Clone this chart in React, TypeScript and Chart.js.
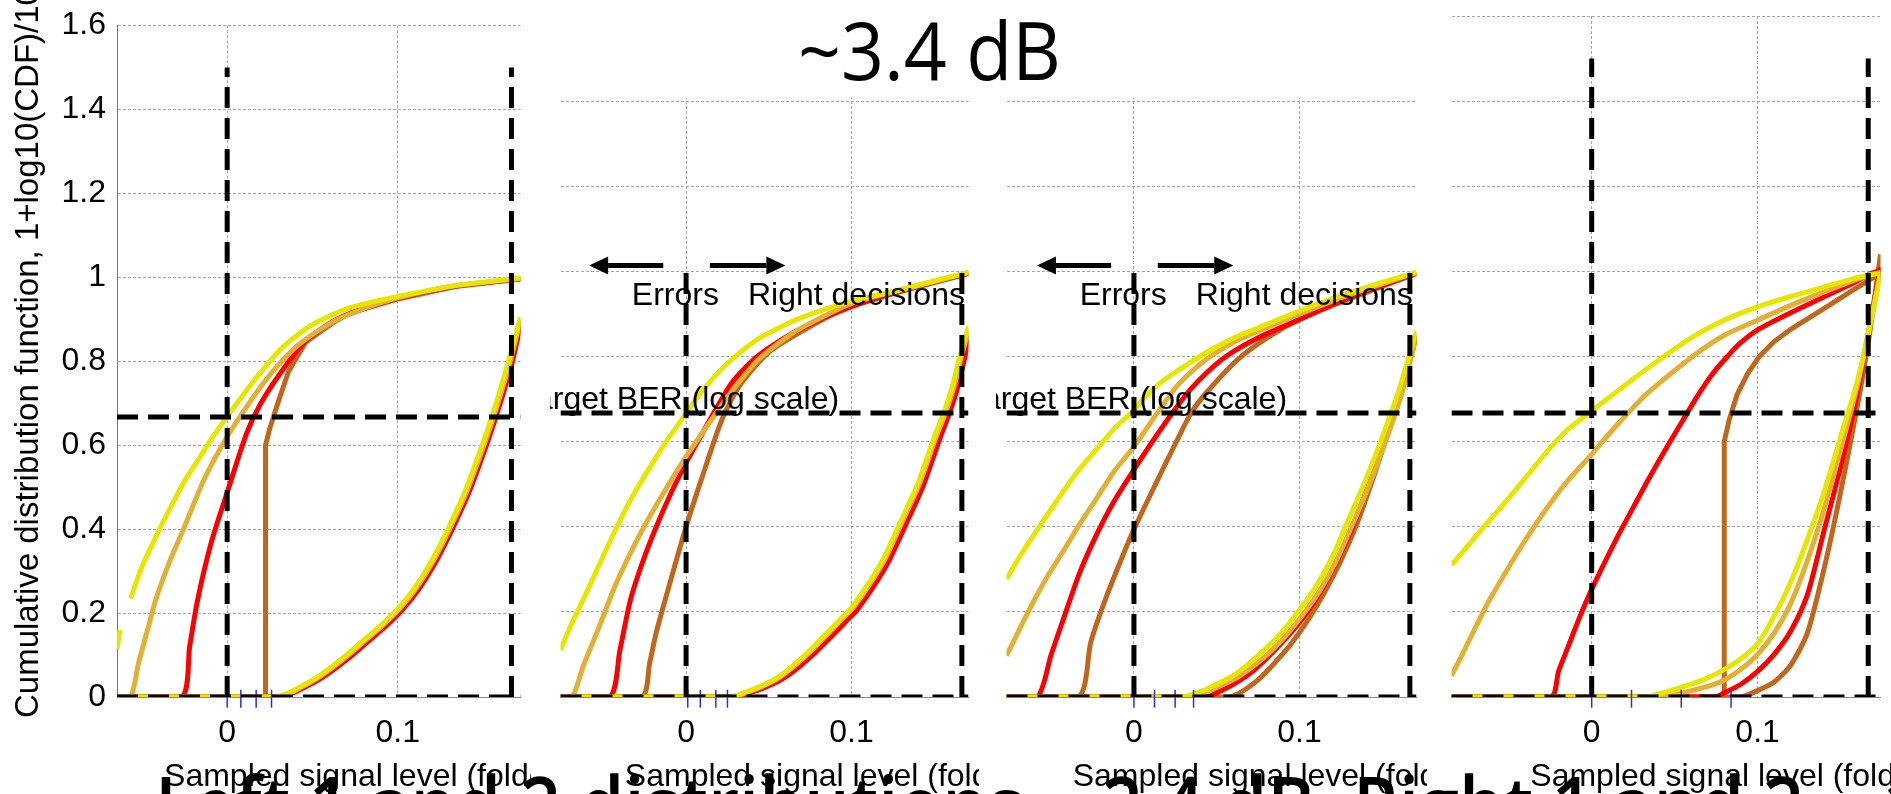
import React, { useEffect, useRef } from 'react';
import { Chart, registerables } from 'chart.js';

Chart.register(...registerables);

const FONT = '"Liberation Sans", Arial, Helvetica, sans-serif';
const SLIDE_FONT = '"Open Sans", "Noto Sans", sans-serif';

const YELLOW = '#e6e600';
const ORANGE = '#e3b033';
const RED = '#ff0000';
const BROWN = '#c2661c';

// axis ticks
const yTickStep = 0.2;
const yMin = 0;
const yMax = 1.6;
const xTickValues = [0, 0.1];

// reference (dashed) lines
const berLevel = 0.667;
const decisionLevels = [0, 0.1667];

// annotation anchors (data units)
const arrowTails = [-0.0138, 0.0144];
const arrowTips = [-0.0586, 0.06];
const arrowY = 1.014;
const labelY = 0.922;
const errorsX = -0.0328;
const rightX = 0.0374;
const berTextX = 0.0925;
const berTextY = 0.676;
const xTitleX = -0.037;

// ---------- Panel 1 ----------
const p1YellowStub: [number, number][] = [[-0.0646, 0.115], [-0.0628, 0.16]];
const p1YellowUp: [number, number][] = [[-0.0566, 0.235], [-0.05, 0.31], [-0.042, 0.38], [-0.034, 0.445], [-0.0256, 0.51], [-0.017, 0.565], [-0.0092, 0.615], [0, 0.668], [0.0113, 0.73], [0.02, 0.775], [0.0318, 0.83], [0.042, 0.865], [0.0523, 0.892], [0.0727, 0.928], [0.1, 0.954], [0.134, 0.98], [0.172, 0.998]];
const p1OrangeUp: [number, number][] = [[-0.0646, 0], [-0.0566, 0], [-0.052, 0.08], [-0.046, 0.17], [-0.042, 0.23], [-0.034, 0.32], [-0.0256, 0.4], [-0.0133, 0.52], [0, 0.62], [0.0154, 0.715], [0.0236, 0.76], [0.032, 0.8], [0.042, 0.84], [0.0625, 0.895], [0.08, 0.925], [0.1, 0.951], [0.134, 0.98], [0.172, 0.997]];
const p1RedUp: [number, number][] = [[-0.0646, 0], [-0.0266, 0], [-0.022, 0.12], [-0.0174, 0.23], [-0.0092, 0.37], [0, 0.487], [0.0113, 0.627], [0.0195, 0.698], [0.0318, 0.775], [0.046, 0.848], [0.0625, 0.896], [0.08, 0.925], [0.1, 0.95], [0.134, 0.979], [0.172, 0.996]];
const p1BrownUp: [number, number][] = [[-0.0646, 0], [0.0225, 0], [0.0225, 0.6], [0.025, 0.64], [0.0297, 0.7], [0.0359, 0.775], [0.046, 0.845], [0.0625, 0.893], [0.0727, 0.916], [0.1, 0.948], [0.134, 0.978], [0.172, 0.996]];
const p1YellowLow: [number, number][] = [[-0.0646, 0], [0.028, 0], [0.035, 0.008], [0.04, 0.018], [0.05, 0.04], [0.06, 0.068], [0.07, 0.1], [0.08, 0.135], [0.09, 0.17], [0.1, 0.21], [0.11, 0.26], [0.12, 0.325], [0.13, 0.405], [0.14, 0.495], [0.15, 0.605], [0.155, 0.665], [0.16, 0.73], [0.165, 0.8], [0.172, 0.905]];
const p1OrangeLow: [number, number][] = [[-0.0646, 0], [0.029, 0], [0.036, 0.008], [0.041, 0.018], [0.051, 0.04], [0.061, 0.068], [0.071, 0.1], [0.081, 0.135], [0.091, 0.17], [0.101, 0.21], [0.111, 0.26], [0.121, 0.325], [0.131, 0.405], [0.141, 0.495], [0.151, 0.605], [0.156, 0.665], [0.161, 0.73], [0.166, 0.8], [0.172, 0.9]];
const p1RedLow: [number, number][] = [[-0.0646, 0], [0.03, 0], [0.037, 0.007], [0.042, 0.016], [0.052, 0.037], [0.062, 0.064], [0.072, 0.095], [0.082, 0.13], [0.092, 0.165], [0.102, 0.205], [0.112, 0.255], [0.122, 0.32], [0.132, 0.4], [0.142, 0.49], [0.152, 0.6], [0.157, 0.66], [0.162, 0.725], [0.167, 0.795], [0.172, 0.885]];
const p1BrownLow: [number, number][] = [[-0.0646, 0], [0.0295, 0], [0.0365, 0.008], [0.0415, 0.017], [0.0515, 0.039], [0.0615, 0.067], [0.0715, 0.098], [0.0815, 0.133], [0.0915, 0.168], [0.1015, 0.208], [0.1115, 0.258], [0.1215, 0.323], [0.1315, 0.403], [0.1415, 0.493], [0.1515, 0.603], [0.1565, 0.663], [0.1615, 0.728], [0.1665, 0.798], [0.172, 0.895]];
const p1Markers = [0, 0.008, 0.017, 0.026];

// ---------- Panel 2 ----------
const p2YellowUp: [number, number][] = [[-0.0759, 0.11], [-0.07, 0.165], [-0.062, 0.23], [-0.052, 0.315], [-0.043, 0.39], [-0.034, 0.46], [-0.024, 0.526], [-0.012, 0.6], [0, 0.666], [0.01, 0.72], [0.024, 0.78], [0.043, 0.84], [0.06, 0.875], [0.072, 0.895], [0.1, 0.93], [0.129, 0.957], [0.1707, 0.998]];
const p2OrangeUp: [number, number][] = [[-0.0759, 0], [-0.0688, 0], [-0.062, 0.074], [-0.052, 0.17], [-0.043, 0.26], [-0.034, 0.335], [-0.024, 0.41], [-0.012, 0.49], [0, 0.565], [0.018, 0.666], [0.026, 0.71], [0.043, 0.79], [0.06, 0.843], [0.072, 0.872], [0.1, 0.925], [0.129, 0.955], [0.1707, 0.997]];
const p2RedUp: [number, number][] = [[-0.0759, 0], [-0.046, 0], [-0.04, 0.11], [-0.0335, 0.23], [-0.026, 0.32], [-0.018, 0.4], [-0.009, 0.48], [0, 0.55], [0.0085, 0.61], [0.0167, 0.667], [0.028, 0.74], [0.043, 0.8], [0.06, 0.845], [0.072, 0.87], [0.1, 0.918], [0.129, 0.953], [0.1707, 0.996]];
const p2BrownUp: [number, number][] = [[-0.0759, 0], [-0.0268, 0], [-0.022, 0.08], [-0.018, 0.152], [-0.0086, 0.284], [0, 0.4], [0.0105, 0.526], [0.022, 0.655], [0.033, 0.735], [0.05, 0.81], [0.072, 0.864], [0.091, 0.903], [0.12, 0.942], [0.1707, 0.995]];
const p2YellowLow: [number, number][] = [[-0.0759, 0], [0.027, 0], [0.035, 0.01], [0.045, 0.025], [0.055, 0.045], [0.065, 0.075], [0.075, 0.11], [0.085, 0.15], [0.095, 0.19], [0.1, 0.21], [0.11, 0.265], [0.12, 0.33], [0.13, 0.415], [0.14, 0.5], [0.15, 0.61], [0.156, 0.67], [0.161, 0.73], [0.1654, 0.8], [0.1707, 0.87]];
const p2OrangeLow: [number, number][] = [[-0.0759, 0], [0.028, 0], [0.036, 0.01], [0.046, 0.025], [0.056, 0.045], [0.066, 0.075], [0.076, 0.11], [0.086, 0.15], [0.096, 0.19], [0.101, 0.21], [0.111, 0.265], [0.121, 0.33], [0.131, 0.415], [0.141, 0.5], [0.151, 0.61], [0.157, 0.67], [0.162, 0.73], [0.1664, 0.8], [0.1707, 0.86]];
const p2RedLow: [number, number][] = [[-0.0759, 0], [0.03, 0], [0.038, 0.009], [0.048, 0.023], [0.058, 0.042], [0.068, 0.07], [0.078, 0.104], [0.088, 0.143], [0.098, 0.183], [0.103, 0.203], [0.113, 0.258], [0.123, 0.323], [0.133, 0.407], [0.143, 0.493], [0.153, 0.603], [0.159, 0.665], [0.164, 0.725], [0.168, 0.79], [0.1707, 0.84]];
const p2BrownLow: [number, number][] = [[-0.0759, 0], [0.029, 0], [0.037, 0.01], [0.047, 0.024], [0.057, 0.044], [0.067, 0.073], [0.077, 0.108], [0.087, 0.147], [0.097, 0.187], [0.102, 0.207], [0.112, 0.262], [0.122, 0.327], [0.132, 0.411], [0.142, 0.497], [0.152, 0.607], [0.158, 0.668], [0.163, 0.728], [0.167, 0.795], [0.1707, 0.85]];
const p2Markers = [0.001, 0.0086, 0.018, 0.025];

// ---------- Panel 3 ----------
const p3YellowUp: [number, number][] = [[-0.077, 0.277], [-0.069, 0.33], [-0.061, 0.378], [-0.052, 0.43], [-0.042, 0.487], [-0.033, 0.535], [-0.023, 0.58], [-0.012, 0.63], [0, 0.674], [0.0057, 0.7], [0.015, 0.735], [0.025, 0.763], [0.044, 0.81], [0.06, 0.843], [0.073, 0.864], [0.1, 0.907], [0.13, 0.95], [0.1707, 0.998]];
const p3OrangeUp: [number, number][] = [[-0.077, 0.097], [-0.069, 0.16], [-0.061, 0.222], [-0.052, 0.285], [-0.042, 0.347], [-0.033, 0.405], [-0.023, 0.464], [-0.012, 0.53], [0, 0.588], [0.0153, 0.674], [0.027, 0.735], [0.044, 0.794], [0.06, 0.833], [0.073, 0.856], [0.1, 0.9], [0.13, 0.945], [0.1707, 0.997]];
const p3RedUp: [number, number][] = [[-0.077, 0], [-0.0583, 0], [-0.05, 0.1], [-0.042, 0.19], [-0.033, 0.29], [-0.023, 0.378], [-0.012, 0.46], [0, 0.534], [0.012, 0.605], [0.023, 0.666], [0.0344, 0.724], [0.0535, 0.794], [0.073, 0.84], [0.1, 0.887], [0.13, 0.938], [0.1707, 0.996]];
const p3BrownUp: [number, number][] = [[-0.077, 0], [-0.0335, 0], [-0.026, 0.13], [-0.0172, 0.23], [-0.008, 0.32], [0, 0.394], [0.0153, 0.518], [0.025, 0.595], [0.0344, 0.666], [0.044, 0.716], [0.063, 0.794], [0.082, 0.848], [0.1, 0.887], [0.13, 0.935], [0.1707, 0.995]];
const p3YellowLow: [number, number][] = [[-0.077, 0], [0.029, 0], [0.04, 0.012], [0.05, 0.03], [0.06, 0.05], [0.07, 0.08], [0.08, 0.115], [0.09, 0.155], [0.1, 0.205], [0.11, 0.26], [0.12, 0.33], [0.13, 0.42], [0.14, 0.51], [0.15, 0.61], [0.16, 0.72], [0.1707, 0.86]];
const p3OrangeLow: [number, number][] = [[-0.077, 0], [0.034, 0], [0.042, 0.01], [0.052, 0.026], [0.062, 0.045], [0.072, 0.072], [0.082, 0.105], [0.092, 0.145], [0.102, 0.193], [0.112, 0.248], [0.122, 0.318], [0.132, 0.405], [0.142, 0.497], [0.152, 0.6], [0.162, 0.715], [0.1707, 0.85]];
const p3RedLow: [number, number][] = [[-0.077, 0], [0.044, 0], [0.05, 0.01], [0.06, 0.03], [0.07, 0.055], [0.08, 0.09], [0.09, 0.13], [0.1, 0.175], [0.11, 0.23], [0.12, 0.3], [0.13, 0.38], [0.14, 0.48], [0.15, 0.585], [0.16, 0.7], [0.1707, 0.85]];
const p3BrownLow: [number, number][] = [[-0.077, 0], [0.057, 0], [0.065, 0.012], [0.075, 0.04], [0.085, 0.08], [0.095, 0.125], [0.105, 0.18], [0.115, 0.245], [0.125, 0.32], [0.135, 0.41], [0.145, 0.52], [0.155, 0.64], [0.165, 0.77], [0.1707, 0.845]];
const p3Markers = [0, 0.0124, 0.0249, 0.036];

// ---------- Panel 4 ----------
const p4YellowUp: [number, number][] = [[-0.0845, 0.31], [-0.0715, 0.37], [-0.062, 0.413], [-0.052, 0.458], [-0.043, 0.5], [-0.033, 0.548], [-0.024, 0.59], [-0.014, 0.63], [0, 0.672], [0.012, 0.708], [0.0243, 0.745], [0.0435, 0.8], [0.0626, 0.85], [0.0818, 0.889], [0.101, 0.918], [0.12, 0.941], [0.139, 0.962], [0.158, 0.983], [0.1741, 0.997]];
const p4OrangeUp: [number, number][] = [[-0.0845, 0.05], [-0.078, 0.1], [-0.0715, 0.152], [-0.062, 0.225], [-0.052, 0.292], [-0.043, 0.35], [-0.033, 0.41], [-0.024, 0.46], [-0.014, 0.51], [0, 0.57], [0.012, 0.625], [0.0243, 0.677], [0.034, 0.715], [0.0626, 0.805], [0.08, 0.85], [0.101, 0.887], [0.12, 0.92], [0.139, 0.95], [0.166, 0.99], [0.1741, 0.996]];
const p4RedUp: [number, number][] = [[-0.0845, 0], [-0.0245, 0], [-0.02, 0.06], [-0.014, 0.12], [-0.007, 0.19], [0, 0.253], [0.0147, 0.37], [0.025, 0.445], [0.034, 0.51], [0.045, 0.585], [0.055, 0.65], [0.0626, 0.7], [0.072, 0.755], [0.0818, 0.8], [0.09, 0.833], [0.101, 0.865], [0.12, 0.903], [0.139, 0.938], [0.158, 0.973], [0.168, 0.995], [0.1741, 1.002]];
const p4BrownUp: [number, number][] = [[-0.0845, 0], [0.0799, 0], [0.0799, 0.6], [0.0828, 0.65], [0.0875, 0.709], [0.094, 0.76], [0.101, 0.8], [0.11, 0.835], [0.12, 0.864], [0.139, 0.91], [0.158, 0.957], [0.1741, 0.996]];
const p4YellowLow: [number, number][] = [[-0.0845, 0], [0.032, 0], [0.045, 0.012], [0.06, 0.03], [0.07, 0.045], [0.08, 0.065], [0.09, 0.09], [0.1, 0.125], [0.11, 0.19], [0.12, 0.27], [0.13, 0.37], [0.14, 0.48], [0.15, 0.61], [0.16, 0.74], [0.166, 0.84], [0.1741, 0.99]];
const p4OrangeLow: [number, number][] = [[-0.0845, 0], [0.0435, 0], [0.055, 0.01], [0.07, 0.025], [0.08, 0.04], [0.09, 0.065], [0.1, 0.1], [0.11, 0.15], [0.12, 0.22], [0.13, 0.32], [0.14, 0.44], [0.15, 0.58], [0.16, 0.73], [0.167, 0.86], [0.1741, 1.0]];
const p4RedLow: [number, number][] = [[-0.0845, 0], [0.074, 0], [0.08, 0.01], [0.09, 0.03], [0.1, 0.06], [0.11, 0.1], [0.12, 0.155], [0.13, 0.24], [0.14, 0.39], [0.15, 0.54], [0.16, 0.71], [0.167, 0.86], [0.1741, 1.01]];
const p4BrownLow: [number, number][] = [[-0.0845, 0], [0.0895, 0], [0.1, 0.015], [0.11, 0.035], [0.12, 0.075], [0.13, 0.15], [0.14, 0.3], [0.15, 0.48], [0.16, 0.68], [0.167, 0.84], [0.1741, 1.04]];
const p4Markers = [0, 0.024, 0.054, 0.084];

type Pts = [number, number][];
interface PanelCfg {
  left: number;
  width: number;
  xmin: number;
  xmax: number;
  yAxis: boolean;
  annotate: boolean;
  refTop: number;
  yellow: Pts[];
  orange: Pts[];
  red: Pts[];
  brown: Pts[];
  markers: number[];
}

const panels: PanelCfg[] = [
  { left: 0, width: 531, xmin: -0.0646, xmax: 0.172, yAxis: true, annotate: false, refTop: 1.5,
    yellow: [p1YellowUp, p1YellowLow, p1YellowStub], orange: [p1OrangeUp, p1OrangeLow], red: [p1RedUp, p1RedLow], brown: [p1BrownUp, p1BrownLow], markers: p1Markers },
  { left: 550, width: 429, xmin: -0.0759, xmax: 0.1707, yAxis: false, annotate: true, refTop: 1.0,
    yellow: [p2YellowUp, p2YellowLow], orange: [p2OrangeUp, p2OrangeLow], red: [p2RedUp, p2RedLow], brown: [p2BrownUp, p2BrownLow], markers: p2Markers },
  { left: 996, width: 431, xmin: -0.077, xmax: 0.1707, yAxis: false, annotate: true, refTop: 1.0,
    yellow: [p3YellowUp, p3YellowLow], orange: [p3OrangeUp, p3OrangeLow], red: [p3RedUp, p3RedLow], brown: [p3BrownUp, p3BrownLow], markers: p3Markers },
  { left: 1441, width: 450, xmin: -0.0845, xmax: 0.1741, yAxis: false, annotate: false, refTop: 1.5,
    yellow: [p4YellowUp, p4YellowLow], orange: [p4OrangeUp, p4OrangeLow], red: [p4RedUp, p4RedLow], brown: [p4BrownUp, p4BrownLow], markers: p4Markers },
];

const toXY = (p: Pts) => p.map(([x, y]) => ({ x, y }));
const hasVertical = (p: Pts) => p.some((q, i) => i > 0 && q[0] === p[i - 1][0] && q[1] !== p[i - 1][1] && q[1] > 0.1);

function drawArrow(ctx: CanvasRenderingContext2D, tail: number, tip: number, y: number) {
  const dir = tip > tail ? 1 : -1;
  const head = 19;
  ctx.beginPath();
  ctx.lineWidth = 5;
  ctx.moveTo(tail, y);
  ctx.lineTo(tip - dir * head, y);
  ctx.stroke();
  ctx.beginPath();
  ctx.moveTo(tip, y);
  ctx.lineTo(tip - dir * head, y - 9);
  ctx.lineTo(tip - dir * head, y + 9);
  ctx.closePath();
  ctx.fill();
}

function makePlugin(cfg: PanelCfg) {
  let done = false;
  const drawAnn = (chart: any) => {
    if (!cfg.annotate) return;
    const { ctx } = chart;
    const xs = chart.scales.x;
    const ys = chart.scales.y;
    ctx.save();
    ctx.fillStyle = '#000';
    ctx.strokeStyle = '#000';
    ctx.textBaseline = 'alphabetic';
    ctx.font = `32px ${FONT}`;
    ctx.textAlign = 'left';
    ctx.fillText('Errors', xs.getPixelForValue(errorsX), ys.getPixelForValue(labelY));
    ctx.fillText('Right decisions', xs.getPixelForValue(rightX), ys.getPixelForValue(labelY));
    ctx.textAlign = 'right';
    ctx.fillText('Target BER (log scale)', xs.getPixelForValue(berTextX), ys.getPixelForValue(berTextY));
    const ay = ys.getPixelForValue(arrowY);
    for (let i = 0; i < arrowTails.length; i++) {
      drawArrow(ctx, xs.getPixelForValue(arrowTails[i]), xs.getPixelForValue(arrowTips[i]), ay);
    }
    ctx.restore();
  };
  return {
    id: 'panelAnnotations',
    beforeDatasetsDraw() {
      done = false;
    },
    beforeDatasetDraw(chart: any, args: any) {
      const ds = chart.data.datasets[args.index];
      if (!done && ds.order === 0) {
        drawAnn(chart);
        done = true;
      }
    },
    afterDraw(chart: any) {
      const { ctx } = chart;
      const xs = chart.scales.x;
      ctx.save();
      ctx.fillStyle = '#000';
      ctx.font = `32px ${FONT}`;
      ctx.textAlign = 'left';
      ctx.textBaseline = 'alphabetic';
      ctx.fillText('Sampled signal level (folded)', xs.getPixelForValue(xTitleX), 786);
      if (cfg.yAxis) {
        ctx.font = `33px ${FONT}`;
        ctx.translate(29, 718);
        ctx.rotate(-Math.PI / 2);
        ctx.textBaseline = 'middle';
        ctx.fillText('Cumulative distribution function, 1+log10(CDF)/10', 0, 0);
      }
      ctx.restore();
    },
  };
}

function Panel({ cfg }: { cfg: PanelCfg }) {
  const canvasRef = useRef<HTMLCanvasElement>(null);
  useEffect(() => {
    const canvas = canvasRef.current!;
    const curve = (pts: Pts, color: string) => ({
      data: toXY(pts),
      showLine: true,
      borderColor: color,
      backgroundColor: color,
      borderWidth: 5,
      pointRadius: 0,
      tension: hasVertical(pts) ? 0 : 0.25,
      fill: false,
      order: 1,
    });
    const refLine = (pts: Pts) => ({
      data: toXY(pts),
      showLine: true,
      borderColor: '#000',
      borderWidth: 5,
      borderDash: [21, 10],
      borderCapStyle: 'butt',
      pointRadius: 0,
      tension: 0,
      fill: false,
      order: 0,
    });
    const datasets: any[] = [
      refLine([[cfg.xmin, berLevel], [cfg.xmax, berLevel]]),
      refLine([[cfg.xmin, 0], [cfg.xmax, 0]]),
      ...decisionLevels.map((d) => refLine([[d, 0], [d, cfg.refTop]])),
      {
        data: cfg.markers.map((m) => ({ x: m, y: -0.004 })),
        showLine: false,
        pointStyle: 'line',
        rotation: 90,
        pointRadius: 9,
        borderColor: '#2a2aff',
        borderWidth: 1.5,
        clip: false,
        order: 0,
      },
      ...cfg.yellow.map((p) => curve(p, YELLOW)),
      ...cfg.orange.map((p) => curve(p, ORANGE)),
      ...cfg.red.map((p) => curve(p, RED)),
      ...cfg.brown.map((p) => curve(p, BROWN)),
    ];
    const chart = new Chart(canvas, {
      type: 'scatter',
      data: { datasets },
      options: {
        animation: false,
        responsive: false,
        devicePixelRatio: 1,
        events: [],
        layout: { padding: { top: 16, left: 0, right: 0, bottom: 0 } },
        plugins: { legend: { display: false }, tooltip: { enabled: false } },
        scales: {
          x: {
            type: 'linear',
            min: cfg.xmin,
            max: cfg.xmax,
            afterBuildTicks: (s: any) => {
              s.ticks = xTickValues.map((v) => ({ value: v }));
            },
            afterFit: (s: any) => {
              s.height = 97;
            },
            ticks: {
              padding: 17,
              color: '#000',
              font: { family: FONT, size: 32 },
              maxRotation: 0,
              callback: (v: any) => String(Math.round(Number(v) * 10) / 10),
            },
            grid: { color: '#a6a6a6', lineWidth: 1, drawTicks: false },
            border: { display: true, color: '#888', width: 1, dash: [3, 2] },
          },
          y: {
            type: 'linear',
            min: yMin,
            max: yMax,
            afterFit: (s: any) => {
              s.width = cfg.yAxis ? 117 : 0;
            },
            ticks: {
              display: cfg.yAxis,
              stepSize: yTickStep,
              padding: 11,
              color: '#000',
              font: { family: FONT, size: 32, lineHeight: 0.9 },
              callback: (v: any) => String(Math.round(Number(v) * 10) / 10),
            },
            grid: { color: '#a6a6a6', lineWidth: 1, drawTicks: false },
            border: { display: cfg.yAxis, color: '#777', width: 1, dash: [3, 2] },
          },
        },
      },
      plugins: [makePlugin(cfg)],
    } as any);
    return () => chart.destroy();
  }, [cfg]);
  return (
    <canvas
      ref={canvasRef}
      width={cfg.width}
      height={794}
      style={{ position: 'absolute', left: cfg.left, top: 0, width: cfg.width, height: 794 }}
    />
  );
}

export default function App() {
  return (
    <div style={{ position: 'fixed', left: 0, top: 0, width: 1891, height: 794, overflow: 'hidden', background: '#fff' }}>
      {panels.map((p, i) => (
        <Panel key={i} cfg={p} />
      ))}
      <div style={{ position: 'absolute', left: 531, top: 0, width: 910, height: 98, background: '#fff' }}>
        <div
          style={{
            position: 'absolute',
            left: 798 - 531,
            top: 9,
            fontFamily: SLIDE_FONT,
            fontSize: 80,
            lineHeight: '80px',
            whiteSpace: 'nowrap',
            color: '#000',
            transform: 'scaleX(0.94)',
            transformOrigin: 'left top',
          }}
        >
          ~3.4 dB
        </div>
      </div>
      <div
        style={{
          position: 'absolute',
          left: 155,
          top: 763,
          fontFamily: SLIDE_FONT,
          fontSize: 80,
          fontWeight: 600,
          lineHeight: '80px',
          whiteSpace: 'nowrap',
          color: '#000',
          transform: 'scaleX(0.9)',
          transformOrigin: 'left top',
        }}
      >
        Left 1 and 2 distributions ~ 2.4 dB, Right 1 and 2 ~ 1 dB
      </div>
    </div>
  );
}
